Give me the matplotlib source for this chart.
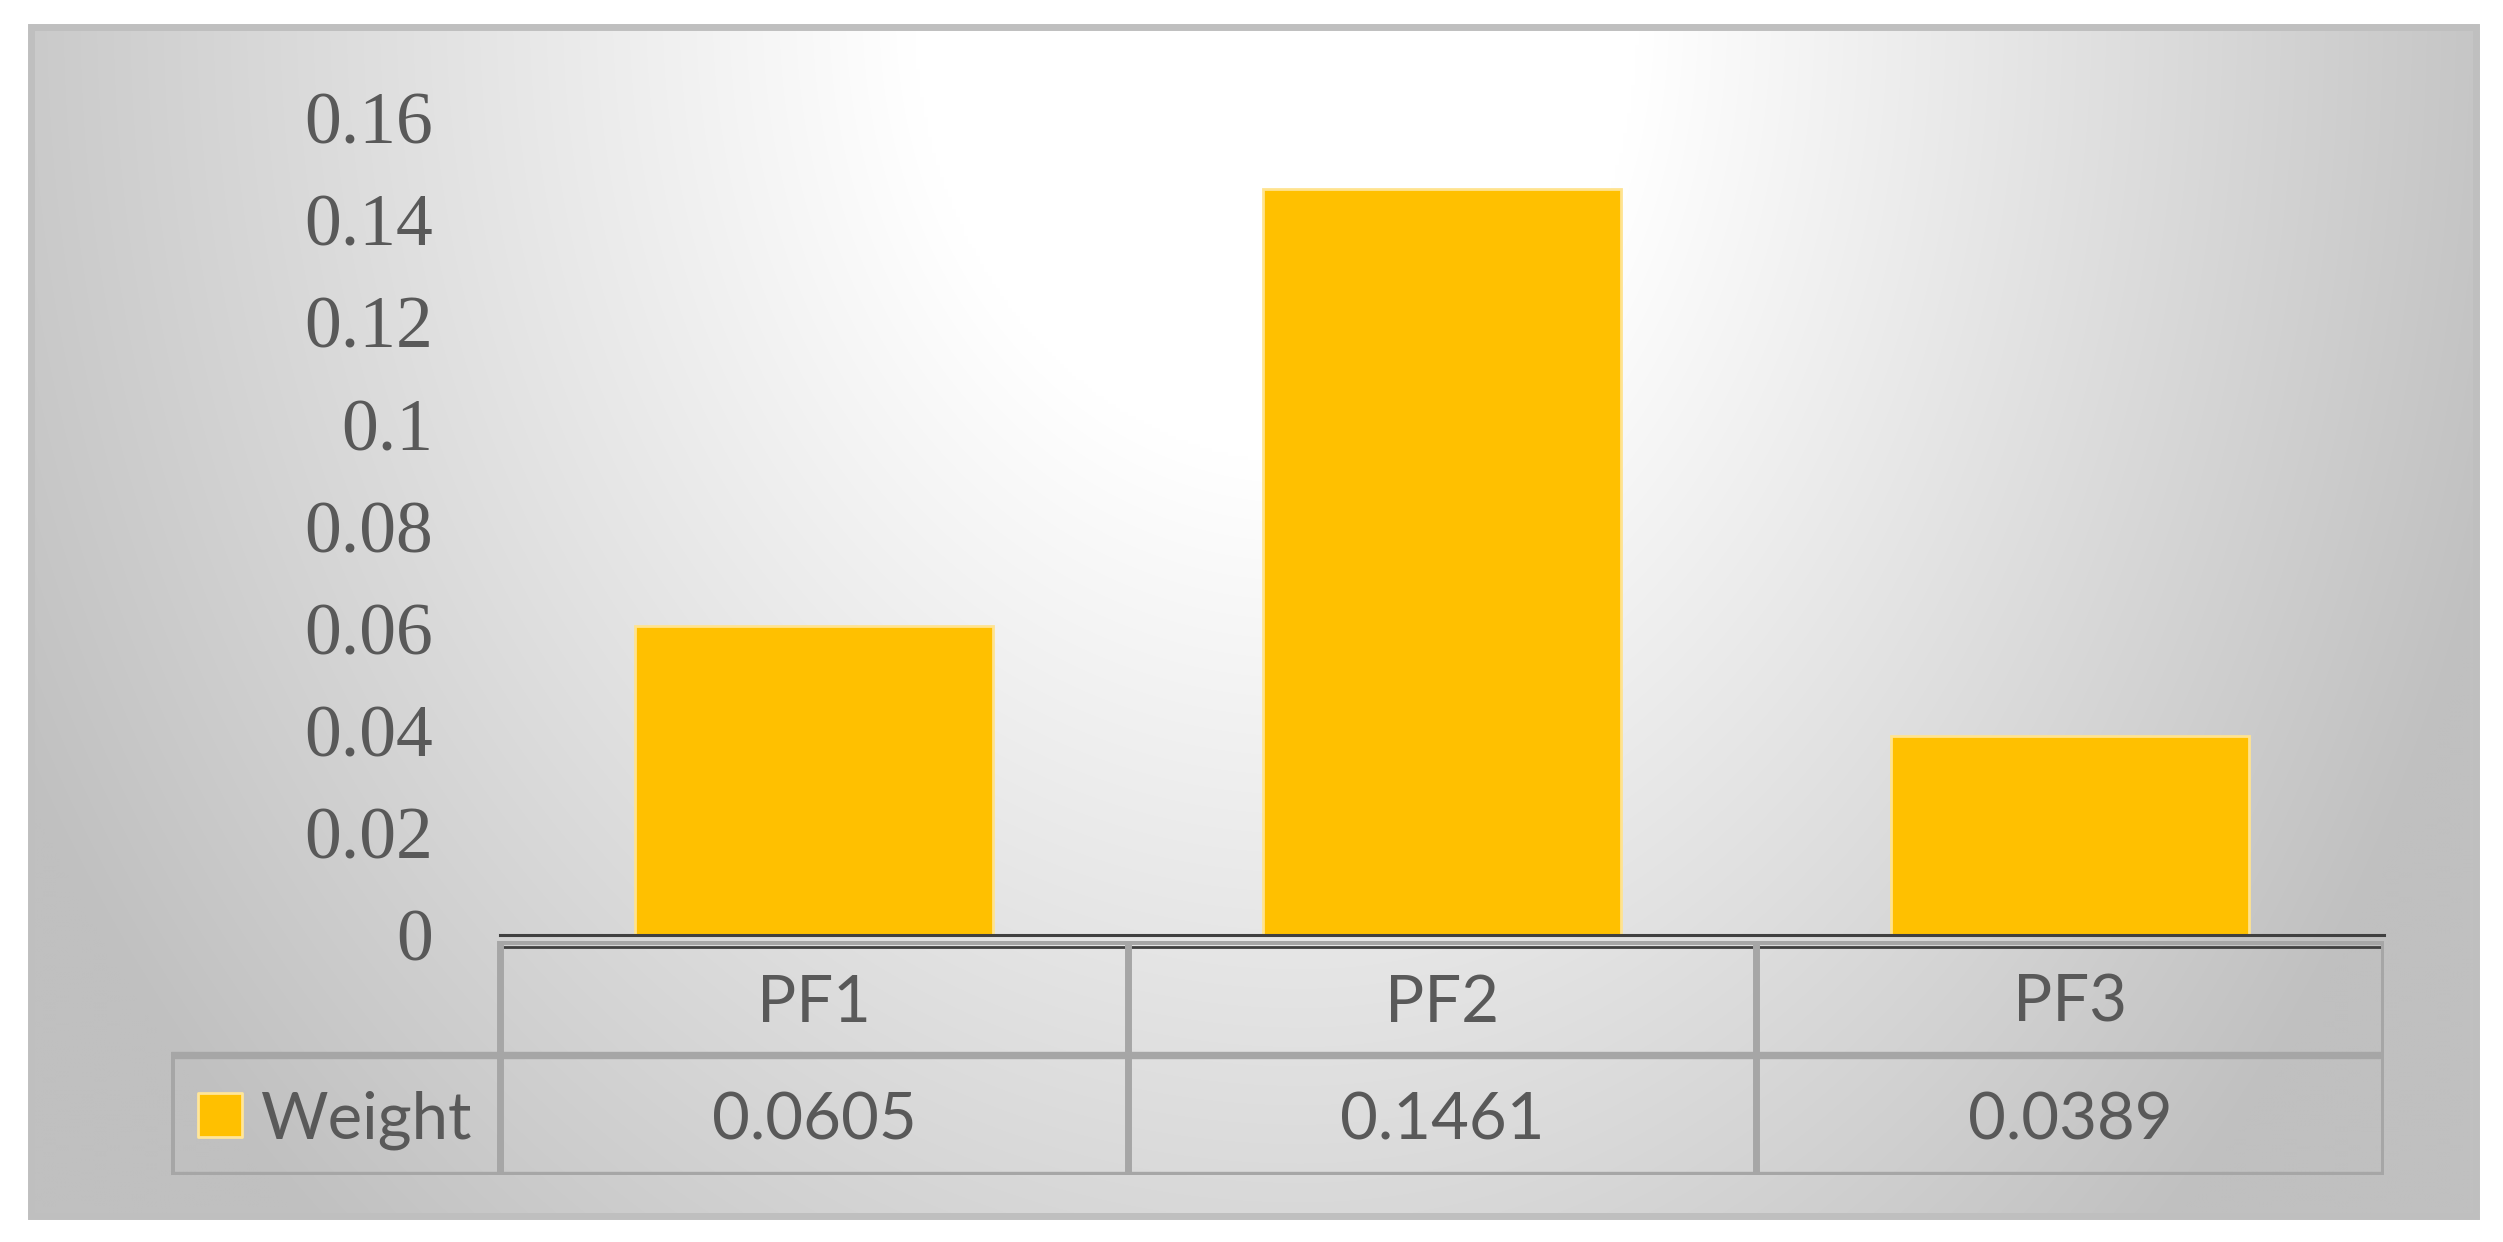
import numpy as np
import matplotlib.pyplot as plt
from matplotlib.patches import Rectangle

# data
categories = ['PF1', 'PF2', 'PF3']
weights = [0.0605, 0.1461, 0.0389]
weight_labels = ['0.0605', '0.1461', '0.0389']
series_name = 'Weight'
yticks = [0, 0.02, 0.04, 0.06, 0.08, 0.1, 0.12, 0.14, 0.16]
ytick_labels = ['0', '0.02', '0.04', '0.06', '0.08', '0.1', '0.12', '0.14', '0.16']

W, H = 2503, 1242
text_color = '#595959'
grid_gray = '#a6a6a6'
bar_color = '#ffc000'

fig = plt.figure(figsize=(W / 100, H / 100), dpi=100)

# background: gray frame with a soft gradient, white near the top middle
bg = fig.add_axes([0, 0, 1, 1], zorder=0)
xx, yy = np.meshgrid(np.arange(31, 2476, 4), np.arange(27, 1216, 4))
cx = 1300
rx = np.where(xx < cx, 1438, 1259)
t = np.sqrt(((xx - cx) / rx) ** 2 + ((yy - 10) / 1680) ** 2)
shade = (255 - 63 * np.clip((t - 0.27) / 0.73, 0, 1)) / 255
bg.imshow(np.dstack([shade] * 3), extent=[31, 2476, 1216, 27],
          aspect='auto', interpolation='bilinear')
bg.add_patch(Rectangle((31, 27), 2445, 1189, fill=False, ec='#bfbfbf', lw=5))
bg.set_xlim(0, W)
bg.set_ylim(H, 0)
bg.axis('off')

# main bar chart
ax = fig.add_axes([500 / W, 1 - 935 / H, (2384 - 500) / W, (935 - 118) / H], zorder=2)
ax.patch.set_alpha(0)
x = np.arange(len(categories))
ax.bar(x, weights, width=0.57, color=bar_color, edgecolor='#ffe38f', linewidth=2, zorder=2)
ax.set_xlim(-0.5, len(categories) - 0.5)
ax.set_ylim(0, 0.16)
ax.set_xticks([])
ax.set_yticks(yticks, ytick_labels)
ax.tick_params(axis='y', length=0, pad=48, labelsize=53, labelcolor=text_color)
for lab in ax.get_yticklabels():
    lab.set_fontfamily('Liberation Serif')
for s in ['top', 'right', 'left']:
    ax.spines[s].set_visible(False)
ax.spines['bottom'].set_color('#404040')
ax.spines['bottom'].set_linewidth(2.2)
ax.spines['bottom'].set_zorder(5)

# data table under the axis
col_w = (2384 - 500) / 3
xl = -0.5 - (500 - 171) / col_w
tab = fig.add_axes([171 / W, 1 - 1175 / H, (2384 - 171) / W, (1175 - 941) / H], zorder=1)
tab.set_xlim(xl, len(categories) - 0.5)
tab.set_ylim(0, 1.95)
tab.axis('off')

tab.plot([-0.5, 2.5], [1.95, 1.95], color=grid_gray, lw=5, solid_capstyle='butt')
tab.plot([-0.5, 2.5], [1.90, 1.90], color='#404040', lw=2, solid_capstyle='butt')
tab.plot([xl, 2.5], [1, 1], color=grid_gray, lw=5.3, solid_capstyle='butt')
tab.plot([xl, 2.5], [0, 0], color=grid_gray, lw=5.3, solid_capstyle='butt')
tab.plot([xl, xl], [0, 1], color=grid_gray, lw=5)
for i in range(len(categories) + 1):
    tab.plot([i - 0.5, i - 0.5], [0, 1.95], color=grid_gray, lw=5, zorder=3)

for i, (cat, lab) in enumerate(zip(categories, weight_labels)):
    tab.text(i, 1.475, cat, ha='center', va='center_baseline', fontsize=47,
             family='Lato', color=text_color)
    tab.text(i, 0.5, lab, ha='center', va='center_baseline', fontsize=47,
             family='Lato', color=text_color)

tab.scatter([xl + 0.078], [0.5], marker='s', s=1000, color=bar_color,
            edgecolor='#ffe699', linewidth=2, zorder=4)
tab.text(xl + 0.143, 0.5, series_name, ha='left', va='center_baseline', fontsize=47,
         family='Lato', color=text_color)

fig.savefig('out.png', dpi=100)
